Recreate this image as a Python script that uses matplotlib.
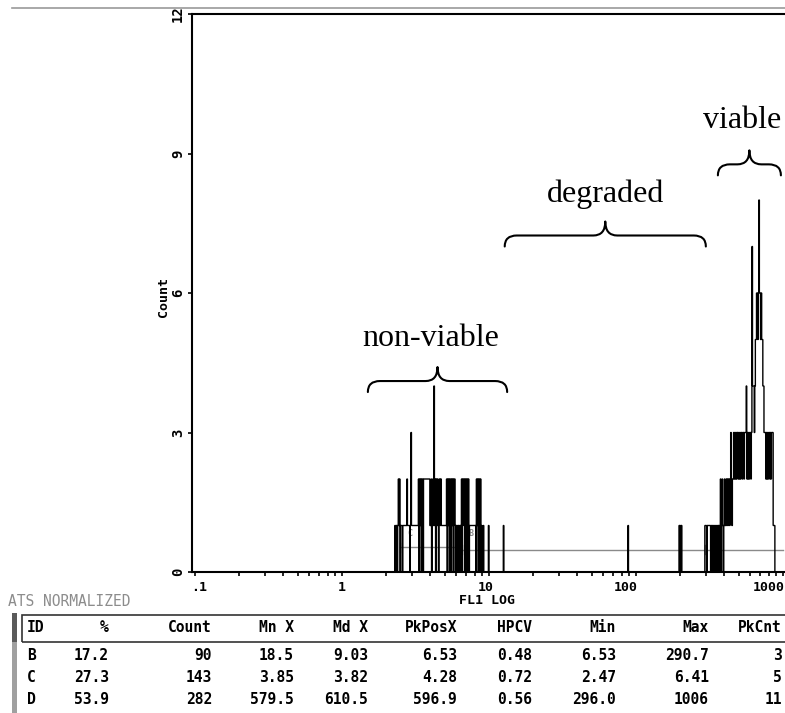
import numpy as np
import matplotlib
matplotlib.use("Agg")
import matplotlib.pyplot as plt
from matplotlib.path import Path
from matplotlib.patches import PathPatch, Rectangle
from matplotlib.transforms import IdentityTransform
from matplotlib.ticker import FixedLocator, NullFormatter, LogLocator
from matplotlib.lines import Line2D

# ---------------- data ----------------
n_channels = 1024
channels_per_decade = 256
x_min_value = 0.1

# non-viable / low part of histogram: counts for consecutive channels starting at 348
nonviable_start = 348
nonviable_counts = [
    1, 0, 1, 1, 0, 1, 2, 1, 2, 0, 1, 1, 1, 0, 1, 1, 1, 1, 1, 1, 1, 2, 1, 1, 1, 1, 0, 1,
    3, 1, 1, 1, 1, 1, 1, 1, 1, 1, 1, 1, 1, 2, 0, 2, 1, 2, 0, 2, 2, 0, 2, 2, 2, 2, 2, 2,
    2, 2, 2, 2, 2, 1, 1, 2, 0, 1, 2, 1, 4, 1, 2, 0, 2, 1, 2, 1, 0, 2, 2, 1, 2, 1, 1, 1,
    1, 1, 1, 1, 1, 1, 2, 0, 2, 1, 2, 0, 2, 2, 0, 2, 1, 2, 0, 2, 2, 1, 0, 1, 1, 0, 1, 1,
    0, 1, 1, 0, 2, 0, 2, 2, 1, 2, 0, 2, 2, 0, 2, 1, 2, 0, 1, 1, 1, 1, 1, 1, 1, 1, 1, 1,
    1, 0, 2, 1, 2, 0, 2, 2, 0, 2, 0, 1,
]
# isolated events in the degraded range
degraded_channels = [502, 511, 537, 754, 843, 844, 846, 847]
degraded_counts = [1, 1, 1, 1, 1, 1, 1, 1]
# viable peak: counts for consecutive channels starting at 888
viable_start = 888
viable_counts = [
    1, 1, 1, 0, 1, 1, 1, 1, 1,
    1, 0, 1, 0, 1, 0, 1, 0, 1, 0, 1, 0, 1, 0, 1, 1, 0,
    1, 2, 0, 1, 2, 1, 0, 1, 2, 1, 1, 2, 1,
    2, 1, 2, 2, 1, 2, 3, 2, 1, 2, 2, 3, 2,
    3, 2, 3, 2, 3, 3, 2, 3, 2, 3, 2, 3, 3,
    2, 3, 3, 2, 3, 3, 3,
    4,
    2, 3, 2, 3, 2, 3, 3, 2,
    3, 7, 4, 4, 4, 3, 4, 5,
    5, 6, 6, 5, 6, 8, 6, 6, 5, 6,
    5, 5, 4, 4, 3, 3,
    3, 2, 3, 2, 3, 2, 3, 3, 2, 3, 2, 3, 3, 3,
    1, 1, 1,
]

# statistics table
stat_ids = ["B", "C", "D"]
stat_pct = ["17.2", "27.3", "53.9"]
stat_count = ["90", "143", "282"]
stat_mnx = ["18.5", "3.85", "579.5"]
stat_mdx = ["9.03", "3.82", "610.5"]
stat_pkpos = ["6.53", "4.28", "596.9"]
stat_hpcv = ["0.48", "0.72", "0.56"]
stat_min = ["6.53", "2.47", "296.0"]
stat_max = ["290.7", "6.41", "1006"]
stat_pkcnt = ["3", "5", "11"]
headers = ["ID", "%", "Count", "Mn X", "Md X", "PkPosX", "HPCV", "Min", "Max", "PkCnt"]

x_ticks = [0.1, 1, 10, 100, 1000]
x_tick_labels = [".1", "1", "10", "100", "1000"]
y_ticks = [0, 3, 6, 9, 12]

# annotations: (label, x0, x1, brace base count, text x, text baseline count)
annotations = [
    ("non-viable", 1.50, 13.3, 3.87, 4.03, 4.86),
    ("degraded", 12.8, 299.0, 7.00, 62.5, 7.96),
    ("viable", 361.0, 969.0, 8.53, 526.0, 9.55),
]

# ---------------- figure ----------------
W, H = 785, 713
fig = plt.figure(figsize=(W / 100, H / 100), dpi=100)
fig.patch.set_facecolor("white")

def fx(x):
    return x / W

def fy(y):
    return 1 - y / H

ax = fig.add_axes([fx(192), fy(572), 597 / W, 558 / H])
ax.set_xscale("log")
ax.set_xlim(0.0954, 1100)
ax.set_ylim(0, 12)

counts = np.zeros(n_channels)
counts[nonviable_start:nonviable_start + len(nonviable_counts)] = nonviable_counts
counts[degraded_channels] = degraded_counts
counts[viable_start:viable_start + len(viable_counts)] = viable_counts
edges = x_min_value * 10 ** (np.arange(n_channels + 1) / channels_per_decade)
ax.stairs(counts, edges, color="black", lw=1.0, zorder=3)

# region markers from the stats table
marker_levels = {"B": 0.48, "C": 0.53, "D": 0.48}
label_offsets = {"B": 1.12, "C": 1.12, "D": 1.08}
for rid, lo, hi in zip(stat_ids, stat_min, stat_max):
    lo, hi = float(lo), float(hi)
    yv = marker_levels[rid]
    ax.plot([lo, hi], [yv, yv], color="#8a8a8a", lw=1.0, zorder=2)
    ax.plot([lo, lo], [yv - 0.1, yv + 0.1], color="#8a8a8a", lw=1.0, zorder=2)
    ax.text(lo * label_offsets[rid], 0.82, rid, fontsize=6, color="#8a8a8a",
            family="DejaVu Sans Mono", fontweight="bold", ha="left", va="center", zorder=1)

# axes styling
for side in ["left", "bottom", "top"]:
    ax.spines[side].set_linewidth(1.5)
    ax.spines[side].set_color("black")
ax.spines["right"].set_visible(False)
ax.xaxis.set_major_locator(FixedLocator(x_ticks))
ax.xaxis.set_major_formatter(NullFormatter())
ax.xaxis.set_minor_locator(LogLocator(base=10, subs=np.arange(2, 10)))
ax.xaxis.set_minor_formatter(NullFormatter())
ax.yaxis.set_major_locator(FixedLocator(y_ticks))
ax.set_yticklabels([str(v) for v in y_ticks], rotation=90, va="center")
ax.tick_params(axis="both", which="both", direction="out", length=3, width=1.2,
               color="black", top=False, right=False)
ax.tick_params(axis="y", which="major", pad=2)
for lab in ax.get_yticklabels():
    lab.set_family("DejaVu Sans Mono")
    lab.set_fontweight("bold")
    lab.set_fontsize(10)

# x tick labels placed under their ticks (shifted like the instrument's printout)
label_shift_px = [4, 0, -3, -10, -14]
for v, lab, dx in zip(x_ticks, x_tick_labels, label_shift_px):
    ax.annotate(lab, xy=(v, 0), xycoords=("data", "axes fraction"),
                xytext=(dx * 0.72, -11.5), textcoords="offset points",
                ha="center", va="center", family="DejaVu Sans Mono",
                fontweight="bold", fontsize=9.5, annotation_clip=False)

fig.text(fx(163), fy(297), "Count", family="DejaVu Sans Mono", fontweight="bold",
         fontsize=9.5, rotation=90, ha="center", va="center")
fig.text(fx(487), fy(601), "FL1 LOG", family="DejaVu Sans Mono", fontweight="bold",
         fontsize=9.5, ha="center", va="center")

# braces
fig.canvas.draw()

def brace(ax, x0, x1, ybase, h=25, lift=11, r=12):
    X0, Y = ax.transData.transform((x0, ybase))
    X1, _ = ax.transData.transform((x1, ybase))
    Xm = (X0 + X1) / 2
    Yl = Y + lift
    Yt = Y + h
    verts = [(X0, Y), (X0, Yl), (X0 + r, Yl), (Xm - r, Yl), (Xm, Yl), (Xm, Yt),
             (Xm, Yl), (Xm + r, Yl), (X1 - r, Yl), (X1, Yl), (X1, Y)]
    codes = [Path.MOVETO, Path.CURVE3, Path.CURVE3, Path.LINETO, Path.CURVE3, Path.CURVE3,
             Path.CURVE3, Path.CURVE3, Path.LINETO, Path.CURVE3, Path.CURVE3]
    patch = PathPatch(Path(verts, codes), transform=IdentityTransform(), fill=False,
                      lw=1.5, edgecolor="black", capstyle="round", joinstyle="round", zorder=5)
    patch.set_clip_on(False)
    fig.add_artist(patch)

for label, x0, x1, yb, tx, ty in annotations:
    brace(ax, x0, x1, yb)
    ax.text(tx, ty, label, family="Liberation Serif", fontsize=23, ha="center",
            va="baseline", color="black", zorder=5)

# top gray rule
fig.add_artist(Line2D([fx(12), fx(785)], [fy(8), fy(8)], color="#9a9a9a", lw=1.2))

# stats section
fig.text(fx(8), fy(602), "ATS NORMALIZED", family="DejaVu Sans Mono", fontsize=10.5,
         color="#8c8c8c", ha="left", va="center")

fig.add_artist(Rectangle((fx(12), fy(713)), 5 / W, 100 / H, facecolor="#a0a0a0",
                         edgecolor="none", transform=fig.transFigure))
fig.add_artist(Rectangle((fx(12), fy(642)), 5 / W, 29 / H, facecolor="#5a5a5a",
                         edgecolor="none", transform=fig.transFigure))
fig.add_artist(Rectangle((fx(22), fy(642)), 780 / W, 27 / H, facecolor="none",
                         edgecolor="#333333", lw=1.2, transform=fig.transFigure))

col_right = [None, 109, 212, 294, 368, 457, 532, 616, 709, 782]
row_y = [656, 677, 699]
tfont = dict(family="DejaVu Sans Mono", fontweight="bold", fontsize=10.5, color="black",
             va="center")
fig.text(fx(27), fy(628), headers[0], ha="left", **tfont)
for h, xr in zip(headers[1:], col_right[1:]):
    fig.text(fx(xr), fy(628), h, ha="right", **tfont)

columns = [stat_pct, stat_count, stat_mnx, stat_mdx, stat_pkpos, stat_hpcv,
           stat_min, stat_max, stat_pkcnt]
for i, rid in enumerate(stat_ids):
    fig.text(fx(27), fy(row_y[i]), rid, ha="left", **tfont)
    for col, xr in zip(columns, col_right[1:]):
        fig.text(fx(xr), fy(row_y[i]), col[i], ha="right", **tfont)

fig.savefig("out.png", dpi=100, facecolor="white")
